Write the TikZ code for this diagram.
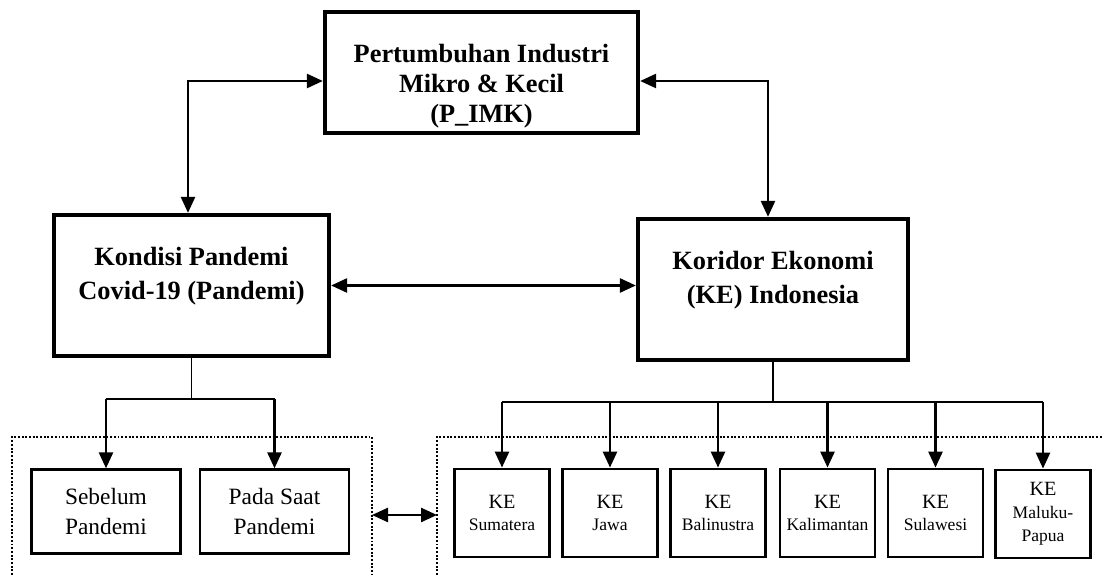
\documentclass[tikz,border=0pt]{standalone}
\usepackage{fontspec}
\setmainfont{Liberation Serif}
\usetikzlibrary{arrows.meta,positioning,calc}

\begin{document}
\begin{tikzpicture}[
    mainbox/.style={draw, rectangle, line width=2.4pt, inner sep=0pt},
    maintext/.style={align=center, font=\fontsize{15}{17}\selectfont\bfseries},
    subbox/.style={draw, rectangle, line width=1.6pt, minimum width=2.98cm, minimum height=1.67cm,
        align=center, font=\fontsize{13.3}{17}\selectfont},
    kebox/.style={draw, rectangle, line width=1.6pt, minimum width=1.9cm, minimum height=1.76cm,
        align=center, inner sep=1pt, font=\fontsize{11.5}{13}\selectfont},
    arrow/.style={-{Triangle[length=3.2mm,width=2.8mm]}, line width=1.5pt},
    both/.style={{Triangle[length=3.2mm,width=2.8mm]}-{Triangle[length=3.2mm,width=2.8mm]}, line width=1.4pt},
    stem/.style={line width=0.6pt},
    bar/.style={line width=0.8pt},
    frame/.style={line width=1.4pt, dash pattern=on 1.1pt off 1pt}
]
\useasboundingbox (0,0) rectangle (22.04,-11.5);

% main boxes
\node[mainbox, minimum width=6.26cm, minimum height=2.42cm] (pimk) at (9.63,-1.45) {};
\node[maintext] (pimktext) at ([yshift=-0.27cm]pimk.center) {Pertumbuhan Industri\\Mikro \& Kecil\\(P\_IMK)};

\node[mainbox, minimum width=5.5cm, minimum height=2.82cm] (pandemi) at (3.83,-5.71) {};
\node[maintext, font=\fontsize{15}{19}\selectfont\bfseries] (pandemitext) at ([yshift=0.19cm]pandemi.center) {Kondisi Pandemi\\Covid-19 (Pandemi)};

\node[mainbox, minimum width=5.4cm, minimum height=2.82cm] (koridor) at (15.46,-5.79) {};
\node[maintext, font=\fontsize{15}{19}\selectfont\bfseries] (koridortext) at ([yshift=0.19cm]koridor.center) {Koridor Ekonomi\\(KE) Indonesia};

% links between main boxes
\draw[both] ([xshift=-0.07cm]pandemi.north) |- ([yshift=-0.17cm]pimk.west);
\draw[both] ([yshift=-0.17cm]pimk.east) -| ([xshift=-0.1cm]koridor.north);
\draw[both] (pandemi.east) -- (pandemi.east -| koridor.west);

% pandemi phases
\node[subbox] (sebelum) at (2.12,-10.23) {Sebelum\\Pandemi};
\node[subbox] (saat) at (5.49,-10.23) {Pada Saat\\Pandemi};

\coordinate (pj) at (pandemi.south |- 0,-7.98);
\draw[stem] (pandemi.south) -- (pj);
\draw[bar] (sebelum.north |- pj) -- (saat.north |- pj);
\draw[arrow] (sebelum.north |- pj) -- (sebelum.north);
\draw[arrow] (saat.north |- pj) -- (saat.north);

% economic corridors
\node[kebox] (sumatera) at (10.04,-10.26) {KE\\{\fontsize{10}{12}\selectfont Sumatera}};
\node[kebox] (jawa) at (12.2,-10.26) {KE\\{\fontsize{10}{12}\selectfont Jawa}};
\node[kebox] (bali) at (14.36,-10.26) {KE\\{\fontsize{10}{12}\selectfont Balinustra}};
\node[kebox] (kalimantan) at (16.55,-10.26) {KE\\{\fontsize{10}{12}\selectfont Kalimantan}};
\node[kebox] (sulawesi) at (18.71,-10.26) {KE\\{\fontsize{10}{12}\selectfont Sulawesi}};
\node[kebox] (maluku) at (20.86,-10.28) {KE\\{\fontsize{10}{12}\selectfont Maluku-}\\{\fontsize{10}{12}\selectfont Papua}};

\coordinate (kj) at (koridor.south |- 0,-8.04);
\draw[stem] (koridor.south) -- (kj);
\draw[bar] (sumatera.north |- kj) -- (maluku.north |- kj);
\draw[arrow] (sumatera.north |- kj) -- (sumatera.north);
\draw[arrow] (jawa.north |- kj) -- (jawa.north);
\draw[arrow] (bali.north |- kj) -- (bali.north);
\draw[arrow] (kalimantan.north |- kj) -- (kalimantan.north);
\draw[arrow] (sulawesi.north |- kj) -- (sulawesi.north);
\draw[arrow] (maluku.north |- kj) -- (maluku.north);

% dotted groups
\coordinate (ltl) at (0.24,-8.74);
\coordinate (ltr) at (7.44,-8.74);
\coordinate (rtl) at (8.74,-8.74);
\draw[frame] (ltl |- 0,-11.5) -- (ltl) -- (ltr) -- (ltr |- 0,-11.5);
\draw[frame] (rtl |- 0,-11.5) -- (rtl) -- (22.04,-8.74);
\draw[both] (ltr |- 0,-10.3) -- (rtl |- 0,-10.3);

\end{tikzpicture}
\end{document}
